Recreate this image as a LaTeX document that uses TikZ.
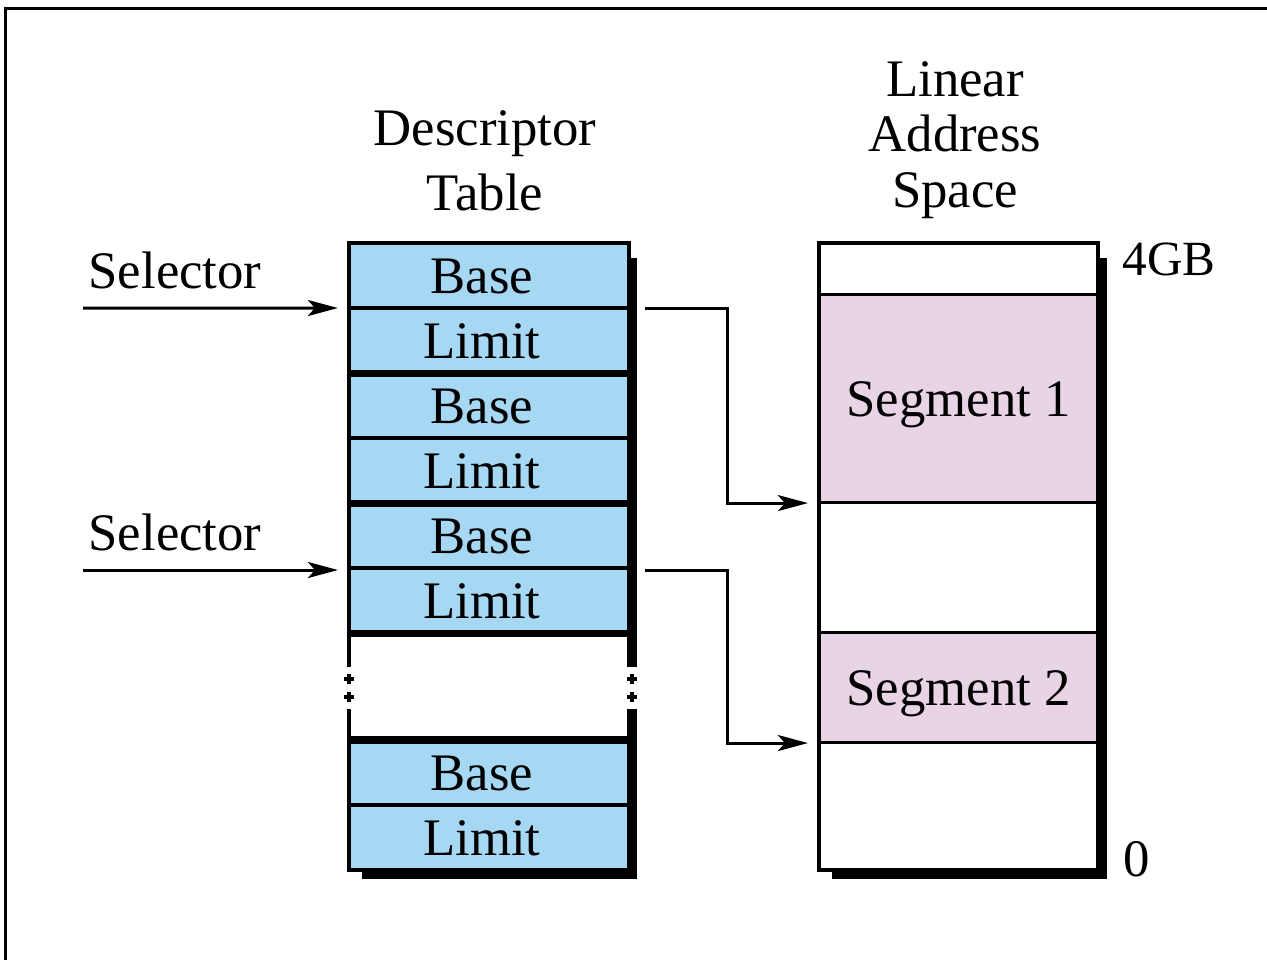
\documentclass[tikz,border=0pt]{standalone}
\usepackage{fontspec}
\setmainfont{Liberation Serif}
\usetikzlibrary{arrows.meta}
\definecolor{cellblue}{HTML}{A6D8F4}
\definecolor{segpink}{HTML}{E8D4E4}
\tikzset{
  lbl/.style={font=\fontsize{15}{18}\selectfont, inner sep=0pt},
  cell/.style={draw=black, line width=1pt, fill=cellblue, minimum width=2.8cm,
    minimum height=0.65cm, inner sep=0pt, outer sep=0pt, text height=0.35cm,
    text depth=0pt, font=\fontsize{15}{18}\selectfont,
    execute at begin node={\kern-0.14cm}},
  area/.style={draw=black, line width=0.85pt, fill=white, minimum width=2.79cm,
    inner sep=0pt, outer sep=0pt, text height=0.35cm, text depth=0pt,
    font=\fontsize{15}{18}\selectfont},
  groupline/.style={line width=2pt},
  sideline/.style={line width=1.1pt},
  conn/.style={line width=0.85pt, -{Stealth[length=0.3cm, width=0.16cm, inset=0.07cm]}},
  gapmark/.style={line width=1.1pt}
}
\begin{document}
\begin{tikzpicture}[x=0.01cm, y=-0.01cm]
\useasboundingbox (0,0) rectangle (1267,960);

% outer frame (top and left edges)
\draw[line width=0.85pt] (5.5,960) -- (5.5,8.5) -- (1267,8.5);

% ---- descriptor table ----
\fill[black] (362,258) rectangle (637,879);
\fill[white] (349,633) rectangle (629,740);
\fill[white] (340,667) rectangle (645,709);

\node[cell] (b1) at (489,275.5) {Base};
\node[cell] (l1) at (489,340.5) {Limit};
\node[cell] (b2) at (489,405.5) {Base};
\node[cell] (l2) at (489,470.5) {Limit};
\node[cell] (b3) at (489,535.5) {Base};
\node[cell] (l3) at (489,600.5) {Limit};
\node[cell] (b4) at (489,772.5) {Base};
\node[cell] (l4) at (489,837.5) {Limit};

\draw[groupline] (l1.south west) -- (l1.south east);
\draw[groupline] (l2.south west) -- (l2.south east);
\draw[groupline] (l3.south west) -- (l3.south east);
\draw[groupline] (b4.north west) -- (b4.north east);
\draw[sideline] (b1.north west) -- (l3.south west);
\draw[sideline] (b4.north west) -- (l4.south west) -- (l4.south east);

% broken sides of the elided part of the table
\draw[sideline] (l3.south west) -- ++(0,34);
\draw[sideline] (b4.north west) -- ++(0,-31);
\draw[sideline] (l3.south east) -- ++(0,34);
\draw[sideline] (b4.north east) -- ++(0,-31);
\foreach \x in {349,632} {
  \foreach \y in {679,697} {
    \draw[gapmark] (\x-5,\y) -- (\x+5,\y) (\x,\y-5) -- (\x,\y+5);
  }
}

\node[lbl, align=center, font=\fontsize{15}{18.5}\selectfont] (dtitle) at (485,160.5) {Descriptor\\Table};

% ---- linear address space ----
\fill[black] (832,258) rectangle (1107,879);
\node[area, minimum height=0.52cm] (top) at (958.5,269) {};
\node[area, fill=segpink, minimum height=2.08cm] (seg1) at (958.5,399) {Segment 1};
\node[area, minimum height=1.3cm] (mid) at (958.5,568) {};
\node[area, fill=segpink, minimum height=1.1cm] (seg2) at (958.5,688) {Segment 2};
\node[area, minimum height=1.27cm] (low) at (958.5,806.5) {};
\draw[sideline] (top.north west) rectangle (low.south east);

\node[lbl, align=center, font=\fontsize{15}{15.7}\selectfont] (ltitle) at (955,140) {Linear\\Address\\Space};
\node[lbl, anchor=base, font=\fontsize{14}{17}\selectfont] (max) at (1169,275) {4GB};
\node[lbl, anchor=base] (zero) at (1137,876) {0};

% ---- selectors ----
\coordinate (sel1) at (83,308);
\coordinate (sel2) at (83,570);
\node[lbl, anchor=base] (sel1lbl) at (175,288) {Selector};
\node[lbl, anchor=base] (sel2lbl) at (175,550) {Selector};
\draw[conn, shorten >=0.11cm] (sel1) -- (b1.south west);
\draw[conn, shorten >=0.11cm] (sel2) -- (sel2 -| b3.south west);

% ---- descriptors pointing at segments ----
\draw[conn, shorten <=0.16cm, shorten >=0.11cm] (b1.south east) -- ++(98,0) |- (seg1.south west);
\draw[conn, shorten <=0.16cm, shorten >=0.11cm] (sel2 -| b3.south east) -- ++(98,0) |- (seg2.south west);
\end{tikzpicture}
\end{document}
